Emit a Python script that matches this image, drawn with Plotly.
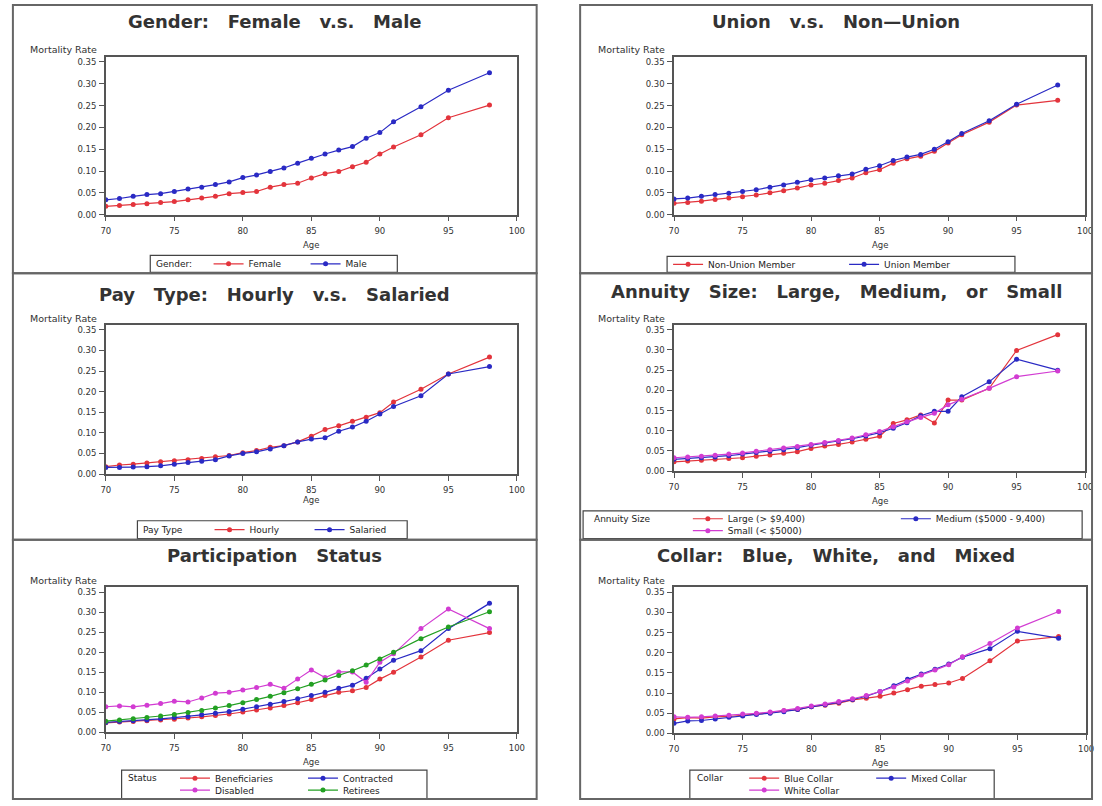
import plotly.graph_objects as go

W, H = 1102, 806
FONT = "DejaVu Sans"

# ---------------- data ----------------
ages = [70, 71, 72, 73, 74, 75, 76, 77, 78, 79, 80, 81, 82, 83, 84, 85, 86, 87, 88, 89, 90, 91, 93, 95, 98]
x_ticks = [70, 75, 80, 85, 90, 95, 100]
y_ticks = [0.00, 0.05, 0.10, 0.15, 0.20, 0.25, 0.30, 0.35]
y_tick_labels = ["0.00", "0.05", "0.10", "0.15", "0.20", "0.25", "0.30", "0.35"]

gender_female = [0.019, 0.021, 0.023, 0.025, 0.028, 0.030, 0.034, 0.038, 0.042, 0.048, 0.051, 0.053, 0.063,
                 0.069, 0.072, 0.084, 0.094, 0.099, 0.110, 0.120, 0.139, 0.155, 0.183, 0.222, 0.251]
gender_male = [0.034, 0.037, 0.042, 0.046, 0.048, 0.053, 0.059, 0.063, 0.069, 0.075, 0.085, 0.091, 0.099,
               0.107, 0.118, 0.129, 0.139, 0.148, 0.156, 0.175, 0.188, 0.213, 0.247, 0.285, 0.325]

union_non = [0.026, 0.028, 0.031, 0.035, 0.038, 0.041, 0.045, 0.050, 0.055, 0.061, 0.068, 0.072, 0.078,
             0.084, 0.096, 0.103, 0.118, 0.128, 0.134, 0.145, 0.164, 0.183, 0.212, 0.251, 0.262]
union_member = [0.036, 0.038, 0.042, 0.046, 0.049, 0.053, 0.057, 0.063, 0.068, 0.074, 0.080, 0.084, 0.089,
                0.093, 0.104, 0.112, 0.124, 0.132, 0.138, 0.150, 0.167, 0.186, 0.215, 0.253, 0.297]

pay_hourly = [0.018, 0.022, 0.024, 0.027, 0.030, 0.032, 0.035, 0.038, 0.042, 0.045, 0.052, 0.057, 0.065,
              0.069, 0.078, 0.092, 0.108, 0.117, 0.128, 0.138, 0.149, 0.175, 0.206, 0.243, 0.284]
pay_salaried = [0.016, 0.016, 0.017, 0.018, 0.020, 0.024, 0.028, 0.031, 0.035, 0.044, 0.050, 0.054, 0.061,
                0.069, 0.078, 0.085, 0.088, 0.104, 0.114, 0.128, 0.146, 0.164, 0.190, 0.243, 0.261]

annuity_large = [0.023, 0.025, 0.027, 0.029, 0.031, 0.033, 0.037, 0.040, 0.044, 0.048, 0.056, 0.062, 0.066,
                 0.072, 0.079, 0.086, 0.118, 0.127, 0.139, 0.119, 0.176, 0.176, 0.205, 0.299, 0.338]
annuity_medium = [0.029, 0.031, 0.033, 0.035, 0.038, 0.042, 0.046, 0.049, 0.053, 0.058, 0.064, 0.069, 0.074,
                  0.080, 0.087, 0.095, 0.106, 0.120, 0.137, 0.148, 0.148, 0.184, 0.221, 0.277, 0.250]
annuity_small = [0.033, 0.035, 0.037, 0.039, 0.042, 0.045, 0.049, 0.053, 0.057, 0.061, 0.066, 0.071, 0.076,
                 0.082, 0.090, 0.098, 0.110, 0.122, 0.133, 0.143, 0.164, 0.178, 0.205, 0.234, 0.248]

status_beneficiaries = [0.024, 0.026, 0.027, 0.029, 0.031, 0.033, 0.036, 0.039, 0.042, 0.046, 0.051, 0.056, 0.061,
                        0.067, 0.074, 0.082, 0.092, 0.100, 0.104, 0.112, 0.133, 0.150, 0.188, 0.230, 0.249]
status_contracted = [0.025, 0.027, 0.029, 0.031, 0.034, 0.037, 0.040, 0.044, 0.048, 0.052, 0.058, 0.064, 0.070,
                     0.077, 0.084, 0.092, 0.100, 0.110, 0.118, 0.135, 0.158, 0.180, 0.204, 0.259, 0.322]
status_disabled = [0.064, 0.066, 0.064, 0.068, 0.072, 0.078, 0.076, 0.086, 0.098, 0.100, 0.106, 0.112, 0.120,
                   0.110, 0.133, 0.156, 0.137, 0.151, 0.151, 0.125, 0.175, 0.196, 0.259, 0.308, 0.259]
status_retirees = [0.028, 0.031, 0.034, 0.037, 0.041, 0.045, 0.050, 0.055, 0.061, 0.067, 0.074, 0.082, 0.090,
                   0.099, 0.109, 0.120, 0.131, 0.142, 0.154, 0.168, 0.183, 0.200, 0.234, 0.263, 0.301]

collar_blue = [0.036, 0.039, 0.038, 0.041, 0.042, 0.045, 0.049, 0.051, 0.056, 0.059, 0.066, 0.070, 0.075,
               0.083, 0.087, 0.092, 0.100, 0.108, 0.117, 0.121, 0.125, 0.136, 0.180, 0.229, 0.240]
collar_mixed = [0.025, 0.031, 0.032, 0.036, 0.040, 0.043, 0.047, 0.050, 0.054, 0.059, 0.066, 0.071, 0.077,
                0.084, 0.092, 0.104, 0.118, 0.134, 0.147, 0.159, 0.172, 0.189, 0.210, 0.253, 0.236]
collar_white = [0.041, 0.040, 0.041, 0.043, 0.045, 0.048, 0.050, 0.053, 0.057, 0.062, 0.068, 0.073, 0.079,
                0.086, 0.094, 0.104, 0.115, 0.130, 0.145, 0.157, 0.170, 0.190, 0.223, 0.261, 0.302]

# ---------------- styles ----------------
RED = "#e3343c"
BLUE = "#2a2ac4"
MAGENTA = "#d23cd2"
GREEN = "#23a023"
NB = "\u00a0"

def sp(text):
    return text.replace(" ", NB * 3)

# series tuple: (label, values, colour, legend row, legend entry width)
panels = [
    dict(title="Gender: Female v.s. Male", box=(8, 5, 538, 275), plot=(102, 57, 518, 216), ty=22, agey=247,
         legend=dict(box=(147, 257, 397, 274), title="Gender:", tx=151, x=206, rows=[265.5]),
         series=[("Female", gender_female, RED, 0, 52), ("Male", gender_male, BLUE, 0, 30)]),
    dict(title="Union v.s. Non\u2014Union", box=(582, 5, 1100, 275), plot=(677, 57, 1093, 216), ty=22, agey=247,
         legend=dict(box=(670, 258, 1022, 274), title="", tx=675, x=671, rows=[266]),
         series=[("Non-Union Member", union_non, RED, 0, 131), ("Union Member", union_member, BLUE, 0, 80)]),
    dict(title="Pay Type: Hourly v.s. Salaried", box=(8, 275, 538, 543), plot=(102, 327, 518, 477), ty=296, agey=503,
         legend=dict(box=(134, 524, 407, 542), title="Pay Type", tx=138, x=207, rows=[533]),
         series=[("Hourly", pay_hourly, RED, 0, 55), ("Salaried", pay_salaried, BLUE, 0, 50)]),
    dict(title="Annuity Size: Large, Medium, or Small", box=(582, 275, 1100, 543), plot=(677, 327, 1093, 474), ty=293,
         agey=504,
         legend=dict(box=(585, 514, 1090, 542), title="Annuity Size", tx=594, x=691, rows=[522, 534]),
         series=[("Large (> $9,400)", annuity_large, RED, 0, 163),
                 ("Medium ($5000 - 9,400)", annuity_medium, BLUE, 0, 140),
                 ("Small (< $5000)", annuity_small, MAGENTA, 1, 163)]),
    dict(title="Participation Status", box=(8, 543, 538, 804), plot=(102, 591, 518, 737), ty=559, agey=767,
         legend=dict(box=(118, 775, 427, 804), title="Status", tx=122, x=172, rows=[783, 795]),
         series=[("Beneficiaries", status_beneficiaries, RED, 0, 83), ("Contracted", status_contracted, BLUE, 0, 70),
                 ("Disabled", status_disabled, MAGENTA, 1, 83), ("Retirees", status_retirees, GREEN, 1, 70)]),
    dict(title="Collar: Blue, White, and Mixed", box=(582, 543, 1100, 804), plot=(677, 591, 1094, 738), ty=559,
         agey=768,
         legend=dict(box=(693, 775, 1001, 804), title="Collar", tx=698, x=748, rows=[783, 795]),
         series=[("Blue Collar", collar_blue, RED, 0, 82), ("Mixed Collar", collar_mixed, BLUE, 0, 70),
                 ("White Collar", collar_white, MAGENTA, 1, 82)]),
]

fig = go.Figure()
layout = dict(
    width=W, height=H, margin=dict(l=0, r=0, t=0, b=0),
    paper_bgcolor="white", plot_bgcolor="white",
    font=dict(family=FONT, size=8, color="#222"),
    shapes=[], annotations=[],
)

n_leg = 0
for i, p in enumerate(panels, start=1):
    sfx = "" if i == 1 else str(i)
    xa, ya = "x" + sfx, "y" + sfx
    lgd = p["legend"]
    row_names = []
    for ry in lgd["rows"]:
        n_leg += 1
        name = "legend" if n_leg == 1 else f"legend{n_leg}"
        row_names.append(name)
        layout[name] = dict(x=lgd["x"] / W, y=1 - ry / H, xanchor="left", yanchor="middle",
                            orientation="h", bgcolor="rgba(0,0,0,0)", borderwidth=0,
                            itemwidth=30, entrywidthmode="pixels",
                            font=dict(family=FONT, size=9, color="#222"))
    for name, vals, color, row, lw in p["series"]:
        fig.add_trace(go.Scatter(
            x=ages, y=vals, name=name, mode="lines+markers",
            line=dict(color=color, width=1.2), marker=dict(color=color, size=5),
            xaxis=xa, yaxis=ya, legend=row_names[row], legendwidth=lw,
        ))
    l, t, r, b = p["plot"]
    axis_common = dict(showline=True, mirror=True, linecolor="#555", linewidth=1.5,
                       ticks="outside", ticklen=5, tickwidth=1, tickcolor="#555",
                       tickfont=dict(family=FONT, size=8.5, color="#333"),
                       showgrid=False, zeroline=False, fixedrange=True)
    layout["xaxis" + sfx] = dict(domain=[l / W, r / W], anchor=ya, range=[70, 100],
                                 tickvals=x_ticks, ticklabelstandoff=2, **axis_common)
    layout["yaxis" + sfx] = dict(domain=[1 - b / H, 1 - t / H], anchor=xa, range=[0, 0.362],
                                 tickvals=y_ticks, ticktext=y_tick_labels, ticklabelstandoff=1, **axis_common)
    bl, bt, br, bb = p["box"]
    layout["shapes"].append(dict(type="rect", xref="paper", yref="paper",
                                 x0=bl / W, x1=br / W, y0=1 - bb / H, y1=1 - bt / H,
                                 line=dict(color="#666", width=2), fillcolor="rgba(0,0,0,0)"))
    layout["annotations"].append(dict(text=sp(p["title"]), xref="paper", yref="paper",
                                      x=(bl + br) / 2 / W, y=1 - p["ty"] / H, showarrow=False,
                                      xanchor="center", yanchor="middle",
                                      font=dict(family=FONT, size=18, color="#333", weight="bold")))
    layout["annotations"].append(dict(text="Mortality Rate", xref="paper", yref="paper",
                                      x=(l - 7) / W, y=1 - (t - 7) / H, showarrow=False,
                                      xanchor="right", yanchor="middle",
                                      font=dict(family=FONT, size=9.5, color="#333")))
    layout["annotations"].append(dict(text="Age", xref="paper", yref="paper",
                                      x=(l + r) / 2 / W, y=1 - p["agey"] / H, showarrow=False,
                                      xanchor="center", yanchor="middle",
                                      font=dict(family=FONT, size=8.5, color="#333")))
    # legend frame and heading
    gl, gt, gr, gb = lgd["box"]
    layout["shapes"].append(dict(type="rect", xref="paper", yref="paper",
                                 x0=gl / W, x1=gr / W, y0=1 - gb / H, y1=1 - gt / H,
                                 line=dict(color="#444", width=1.2), fillcolor="white", layer="below"))
    if lgd["title"]:
        layout["annotations"].append(dict(text=lgd["title"], xref="paper", yref="paper",
                                          x=lgd["tx"] / W, y=1 - lgd["rows"][0] / H, showarrow=False,
                                          xanchor="left", yanchor="middle",
                                          font=dict(family=FONT, size=9, color="#222")))

fig.update_layout(**layout)
fig.write_html("out.html")
